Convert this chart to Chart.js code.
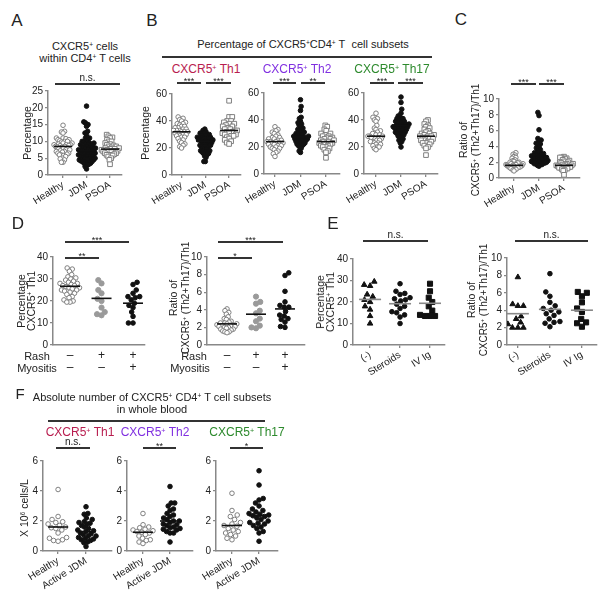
<!DOCTYPE html>
<html>
<head>
<meta charset="utf-8">
<script src="https://cdn.jsdelivr.net/npm/chart.js@4/dist/chart.umd.min.js"></script>
<style>
body { margin: 0; width: 600px; height: 593px; position: relative; background: #fff; overflow: hidden;
  font-family: "Liberation Sans", Arial, sans-serif; color: #222; }
.t { position: absolute; white-space: nowrap; transform: translate(-50%, -50%); text-align: center; line-height: 1.15; }
.v { transform: translate(-50%, -50%) rotate(-90deg); }
.ln { position: absolute; height: 1.3px; background: #333; }
canvas { position: absolute; }
sup { font-size: 60%; position: relative; top: -0.45em; vertical-align: baseline; }
</style>
</head>
<body>
<script>
Chart.defaults.font.family = '"Liberation Sans", Arial, sans-serif';
Chart.defaults.color = '#222';

// A + B + C categories
const abcCats = ['Healthy', 'JDM', 'PSOA'];

// A: CXCR5+ cells within CD4+ T cells (%)
const aHealthy = [14.8, 13, 12.8, 12.5, 11, 11, 10.8, 10.5, 10.5, 10.2, 10, 10, 9.8, 9.5, 9.5, 9.2, 9, 9, 9, 8.8, 8.7, 8.5, 8.5, 8.3, 8.2, 8, 8, 7.8, 7.5, 7.5, 7.2, 7, 7, 6.8, 6.5, 6.5, 6.2, 6, 6, 5.8, 5.5, 5, 4.8, 4.5, 3.8, 3.8];
const aJDM = [20.5, 15.8, 15.5, 15, 14.5, 13, 12.5, 12, 11, 11, 10.5, 10, 10, 9.8, 9.5, 9.5, 9.2, 9, 9, 8.8, 8.5, 8.5, 8.2, 8, 8, 8, 7.8, 7.5, 7.5, 7.5, 7.2, 7, 7, 7, 6.8, 6.5, 6.5, 6.5, 6.2, 6, 6, 6, 5.8, 5.5, 5.5, 5.5, 5.2, 5, 5, 5, 4.8, 4.5, 4.5, 4.5, 4.2, 4, 4, 3.8, 3.5, 3.5, 3.2, 3, 2.5, 1.8];
const aPSOA = [12, 11.5, 11.2, 11, 10.5, 10, 10, 9.5, 9.2, 9, 8.8, 8.5, 8.5, 8.2, 8, 8, 7.8, 7.8, 7.5, 7.5, 7.2, 7.2, 7, 7, 6.8, 6.5, 6.5, 6.2, 6, 6, 5.8, 5.5, 5, 4.5, 3.2];
const aMeans = [8.5, 7.2, 7.7];

// B: percentage of CXCR5+CD4+ T cell subsets
const th1Healthy = [43, 42, 41, 40, 39, 38, 38, 37, 36, 36, 35, 35, 34, 34, 33, 33, 33, 32, 32, 32, 31, 31, 30, 30, 29, 29, 28, 28, 27, 26, 25, 24, 23, 22, 21, 20];
const th1JDM = [34, 33, 32, 31, 31, 30, 30, 29, 29, 28, 28, 28, 27, 27, 27, 26, 26, 26, 25, 25, 25, 24, 24, 24, 23, 23, 22, 22, 22, 21, 21, 20, 20, 19, 19, 18, 18, 17, 17, 16, 16, 15, 14, 13, 10, 10];
const th1PSOA = [55, 43, 43, 40, 40, 39, 38, 38, 37, 36, 36, 35, 34, 34, 33, 33, 32, 32, 31, 31, 30, 30, 29, 29, 28, 27, 26, 25, 24, 23];
const th1Means = [32, 25, 33];

const th2Healthy = [35, 33, 32, 31, 30, 29, 28, 27, 27, 26, 26, 25, 25, 24, 24, 24, 23, 23, 23, 22, 22, 21, 21, 20, 20, 19, 19, 18, 17, 16, 15, 13];
const th2JDM = [55, 50, 47, 42, 41, 39, 38, 37, 36, 35, 34, 33, 33, 32, 31, 31, 30, 30, 29, 29, 28, 28, 28, 27, 27, 27, 26, 26, 26, 25, 25, 25, 24, 24, 23, 23, 22, 22, 21, 21, 20, 19, 17, 16];
const th2PSOA = [36, 35, 33, 32, 30, 30, 29, 28, 28, 27, 27, 26, 26, 25, 25, 24, 24, 24, 23, 23, 22, 22, 21, 21, 20, 20, 19, 18, 17, 16, 12];
const th2Means = [24, 28, 24];

const th17Healthy = [45, 42, 41, 40, 39, 36, 34, 33, 32, 31, 30, 30, 29, 29, 28, 28, 28, 27, 27, 27, 26, 26, 25, 25, 24, 24, 23, 23, 22, 22, 21, 20, 20, 19, 18];
const th17JDM = [57, 53, 48, 45, 43, 42, 41, 41, 40, 40, 39, 39, 38, 38, 37, 37, 37, 36, 36, 36, 35, 35, 35, 34, 34, 34, 33, 33, 32, 32, 31, 31, 30, 30, 29, 29, 28, 27, 26, 25, 24, 23, 20];
const th17PSOA = [40, 39, 37, 36, 35, 34, 33, 32, 31, 30, 30, 29, 29, 28, 28, 28, 27, 27, 26, 26, 25, 25, 24, 24, 23, 23, 22, 21, 20, 19, 14];
const th17Means = [28, 36, 28];

// C: ratio (Th2+Th17)/Th1
const cHealthy = [3.2, 3.0, 2.9, 2.7, 2.6, 2.5, 2.3, 2.2, 2.1, 2.0, 2.0, 1.9, 1.9, 1.8, 1.8, 1.8, 1.7, 1.7, 1.7, 1.6, 1.6, 1.6, 1.5, 1.5, 1.5, 1.4, 1.4, 1.4, 1.3, 1.3, 1.3, 1.2, 1.2, 1.1, 1.1, 1.0, 0.9];
const cJDM = [8.3, 7.9, 6.1, 5.0, 4.8, 4.6, 4.4, 4.3, 4.3, 4.0, 3.8, 3.6, 3.4, 3.3, 3.2, 3.1, 3.0, 3.0, 2.9, 2.8, 2.8, 2.7, 2.6, 2.6, 2.5, 2.5, 2.4, 2.4, 2.3, 2.3, 2.2, 2.2, 2.1, 2.1, 2.0, 2.0, 1.9, 1.9, 1.8, 1.8, 1.7, 1.7, 1.6, 1.5];
const cPSOA = [2.7, 2.6, 2.6, 2.5, 2.4, 2.3, 2.2, 2.1, 2.0, 2.0, 1.9, 1.8, 1.8, 1.7, 1.7, 1.6, 1.6, 1.5, 1.5, 1.4, 1.4, 1.3, 1.3, 1.2, 1.2, 1.1, 1.0, 0.9, 0.4];
const cMeans = [1.6, 2.8, 1.6];

// D: by rash / myositis
const dRash = ['–', '+', '+'];
const dMyositis = ['–', '–', '+'];
const dPctNone = [35, 34.5, 33.5, 32, 31, 30.5, 30, 29.5, 29, 28.5, 28, 28, 27.5, 27, 27, 26.5, 26, 26, 25.5, 25, 25, 24.5, 24, 23.5, 23, 22, 21.5, 20.5, 20, 19.5, 19.5];
const dPctRash = [29.5, 28, 25, 23.5, 21, 20, 17, 15, 14, 13.5];
const dPctBoth = [28.5, 27.5, 25, 23.5, 22, 22, 21.5, 20.5, 19, 18, 17, 15, 13, 10, 10];
const dPctMeans = [26.7, 21.2, 19];
const dRatioNone = [4.1, 3.9, 3.7, 3.5, 3.2, 3.0, 2.9, 2.7, 2.6, 2.5, 2.5, 2.4, 2.4, 2.3, 2.3, 2.2, 2.2, 2.1, 2.1, 2.0, 2.0, 1.9, 1.8, 1.8, 1.7, 1.6, 1.5, 1.5, 1.4];
const dRatioRash = [5.5, 4.9, 4.7, 3.9, 3.6, 3.0, 2.7, 2.2, 2.0, 1.9];
const dRatioBoth = [8.2, 7.9, 6.1, 4.9, 4.5, 4.3, 4.3, 3.8, 3.4, 3.3, 3.0, 2.9, 2.6, 2.1, 2.0];
const dRatioMeans = [2.4, 3.5, 4.1];

// E: by treatment
const eCats = ['(-)', 'Steroids', 'IV Ig'];
const ePctNone = [29.5, 28, 27.5, 23.5, 22.5, 21, 20, 18, 16.5, 13.5, 10];
const ePctSteroids = [28.5, 25, 24, 23.5, 22, 21.5, 21, 20.5, 19, 18, 17, 15.5, 15, 14, 13, 10];
const ePctIVIg = [28.5, 25, 22, 20, 18, 16, 14, 13.5, 13.5, 13.5];
const ePctMeans = [21.2, 19.2, 19.4];
const eRatioNone = [7.8, 4.7, 4.5, 4.5, 3.3, 3.0, 2.6, 2.4, 2.0, 2.0, 2.0];
const eRatioSteroids = [8.2, 6.1, 5.6, 4.9, 4.5, 4.2, 4.0, 3.8, 3.6, 3.4, 3.0, 2.7, 2.6, 2.5, 2.1];
const eRatioIVIg = [6.1, 6.0, 5.6, 4.9, 4.2, 3.8, 3.0, 2.6, 2.5, 2.1];
const eRatioMeans = [3.6, 4.1, 4.0];

// F: absolute number (x10^6 cells/L)
const fCats = ['Healthy', 'Active JDM'];
const fTh1Healthy = [4.1, 2.3, 2.1, 1.95, 1.9, 1.8, 1.7, 1.6, 1.55, 1.5, 1.4, 1.2, 0.9, 0.85, 0.75, 0.7, 0.65];
const fTh1JDM = [2.95, 2.5, 2.45, 2.2, 2.1, 1.95, 1.9, 1.85, 1.8, 1.7, 1.6, 1.5, 1.4, 1.35, 1.3, 1.2, 1.15, 1.1, 1.0, 1.0, 0.9, 0.85, 0.8, 0.75, 0.7, 0.6, 0.55, 0.3];
const fTh1Means = [1.6, 1.3];
const fTh2Healthy = [2.5, 1.75, 1.6, 1.55, 1.45, 1.4, 1.35, 1.3, 1.25, 1.2, 1.1, 1.0, 0.85, 0.75, 0.7, 0.6, 0.5];
const fTh2JDM = [4.3, 3.2, 3.2, 3.0, 2.8, 2.7, 2.5, 2.4, 2.3, 2.2, 2.1, 2.0, 2.0, 1.9, 1.8, 1.75, 1.7, 1.6, 1.55, 1.5, 1.45, 1.4, 1.3, 1.2, 1.2, 0.6];
const fTh2Means = [1.25, 2.0];
const fTh17Healthy = [3.85, 2.7, 2.4, 2.3, 2.1, 1.9, 1.8, 1.7, 1.65, 1.5, 1.4, 1.3, 1.2, 1.1, 1.0, 0.85, 0.75];
const fTh17JDM = [5.35, 4.4, 3.5, 3.4, 3.2, 3.0, 2.8, 2.7, 2.6, 2.5, 2.45, 2.4, 2.35, 2.3, 2.2, 2.1, 2.0, 1.9, 1.85, 1.8, 1.7, 1.6, 1.5, 1.3, 1.2, 0.65];
const fTh17Means = [1.7, 2.35];

// marker styles
const openCircle = { shape: 'circle', r: 2.3, fill: '#fff', stroke: '#7f7f7f' };
const blackCircle = { shape: 'circle', r: 2.3, fill: '#111', stroke: '#111' };
const greyCircle = { shape: 'circle', r: 2.6, fill: '#9a9a9a', stroke: '#9a9a9a' };
const openSquare = { shape: 'rect', r: 3.3, fill: '#fff', stroke: '#7f7f7f' };
const blackSquare = { shape: 'rect', r: 3.6, fill: '#111', stroke: '#111' };
const blackTriangle = { shape: 'triangle', r: 3.2, fill: '#111', stroke: '#111' };
const th1Color = '#b81d4f', th2Color = '#8030e0', th17Color = '#2d8a2d';

// simple beeswarm: x offsets (px) so markers don't overlap, then squeezed to maxHalf px
function swarm(vals, pxY, d, maxHalf) {
  const order = vals.map((v, i) => i).sort((a, b) => vals[a] - vals[b]);
  const placed = [];
  const out = new Array(vals.length);
  order.forEach((i, k) => {
    const y = vals[i] * pxY;
    const cands = [0];
    placed.forEach(p => {
      const dy = y - p.y;
      if (Math.abs(dy) < d) {
        const dx = Math.sqrt(d * d - dy * dy);
        cands.push(p.x + dx + 0.01, p.x - dx - 0.01);
      }
    });
    cands.sort((a, b) => Math.abs(a) - Math.abs(b) || (k % 2 ? a - b : b - a));
    const x = cands.find(c => placed.every(p => (c - p.x) ** 2 + (y - p.y) ** 2 >= d * d - 0.001));
    placed.push({ x, y });
    out[i] = x;
  });
  const widest = Math.max(...out.map(Math.abs));
  const k = widest > maxHalf ? maxHalf / widest : 1;
  return out.map(x => x * k);
}

function plot(o) {
  const yw = 30, pt = 8, pr = 6, xh = o.xh || 45;
  const cv = document.createElement('canvas');
  cv.width = o.r - o.l + yw + pr;
  cv.height = o.b - o.t + pt + xh;
  cv.style.left = (o.l - yw) + 'px';
  cv.style.top = (o.t - pt) + 'px';
  document.body.appendChild(cv);
  const pxX = (o.r - o.l) / (o.xmax - o.xmin);
  const pxY = (o.b - o.t) / o.ymax;
  const half = (o.halfPx || 9) / pxX;
  const datasets = [];
  o.means.forEach((m, i) => datasets.push({
    type: 'line', data: [{ x: i - half, y: m }, { x: i + half, y: m }],
    borderColor: o.lineColor || '#111', borderWidth: 1.6, pointRadius: 0, order: 0
  }));
  o.groups.forEach((g, i) => {
    const off = swarm(g.vals, pxY, o.d || 4.6, o.spread || 9);
    datasets.push({
      data: g.vals.map((v, k) => ({ x: i + off[k] / pxX, y: v })),
      pointStyle: g.style.shape, pointRadius: g.style.r,
      backgroundColor: g.style.fill, borderColor: g.style.stroke, borderWidth: 1, order: 1
    });
  });
  const rot = o.rot === undefined ? 32 : o.rot;
  new Chart(cv, {
    type: 'scatter',
    data: { datasets },
    options: {
      responsive: false, animation: false, events: [],
      layout: { padding: { top: pt, right: pr, left: 0, bottom: 0 } },
      plugins: { legend: { display: false }, tooltip: { enabled: false } },
      scales: {
        x: {
          type: 'linear', min: o.xmin, max: o.xmax,
          afterFit: s => { s.height = xh; },
          afterBuildTicks: s => { s.ticks = o.cats.map((c, i) => ({ value: i })); },
          ticks: {
            callback: v => o.cats[v], autoSkip: false, maxRotation: rot, minRotation: rot,
            font: o.xFont || { size: 10 }, padding: o.xPad || 1, color: '#222'
          },
          grid: { drawOnChartArea: false, drawTicks: !o.noXTicks, tickLength: 3, color: '#888', lineWidth: 1.3 },
          border: { color: '#888', width: 1.5 }
        },
        y: {
          min: 0, max: o.ymax,
          afterFit: s => { s.width = yw; },
          ticks: { stepSize: o.step, font: { size: 10 }, padding: 2, color: '#222' },
          grid: { drawOnChartArea: false, tickLength: 3, color: '#888', lineWidth: 1.3 },
          border: { color: '#888', width: 1.5 }
        }
      }
    }
  });
}

function txt(x, y, html, size, extra) {
  const d = document.createElement('div');
  d.className = 't' + (extra && extra.v ? ' v' : '');
  d.style.left = x + 'px';
  d.style.top = y + 'px';
  d.style.fontSize = size + 'px';
  if (extra && extra.color) d.style.color = extra.color;
  if (extra && extra.lh) d.style.lineHeight = extra.lh;
  d.innerHTML = html;
  document.body.appendChild(d);
}
function line(x1, x2, y) {
  const d = document.createElement('div');
  d.className = 'ln';
  d.style.left = x1 + 'px';
  d.style.top = (y - 0.6) + 'px';
  d.style.width = (x2 - x1) + 'px';
  document.body.appendChild(d);
}
function sig(x1, x2, y, label) {
  line(x1, x2, y);
  const ns = label === 'n.s.';
  txt((x1 + x2) / 2, y - (ns ? 6 : 2), label, ns ? 10 : 9);
}

// ----- A -----
plot({ l: 48, r: 122, t: 91, b: 175, xmin: -0.64, xmax: 2.51, ymax: 25, step: 5, cats: abcCats,
  groups: [{ vals: aHealthy, style: openCircle }, { vals: aJDM, style: blackCircle }, { vals: aPSOA, style: openSquare }],
  means: aMeans, spread: 9 });
// ----- B -----
plot({ l: 172, r: 241, t: 94, b: 175, xmin: -0.4, xmax: 2.5, ymax: 60, step: 20, cats: abcCats,
  groups: [{ vals: th1Healthy, style: openCircle }, { vals: th1JDM, style: blackCircle }, { vals: th1PSOA, style: openSquare }],
  means: th1Means, spread: 8 });
plot({ l: 264, r: 340, t: 93, b: 174, xmin: -0.43, xmax: 2.55, ymax: 60, step: 20, cats: abcCats,
  groups: [{ vals: th2Healthy, style: openCircle }, { vals: th2JDM, style: blackCircle }, { vals: th2PSOA, style: openSquare }],
  means: th2Means, spread: 8 });
plot({ l: 364, r: 438, t: 93, b: 174, xmin: -0.48, xmax: 2.48, ymax: 60, step: 20, cats: abcCats,
  groups: [{ vals: th17Healthy, style: openCircle }, { vals: th17JDM, style: blackCircle }, { vals: th17PSOA, style: openSquare }],
  means: th17Means, spread: 8 });
// ----- C -----
plot({ l: 499, r: 580, t: 99, b: 178, xmin: -0.6, xmax: 2.64, ymax: 10, step: 2, cats: abcCats,
  groups: [{ vals: cHealthy, style: openCircle }, { vals: cJDM, style: blackCircle }, { vals: cPSOA, style: openSquare }],
  means: cMeans, spread: 9 });
// ----- D -----
const dLabels = dRash.map((r, i) => [r, dMyositis[i]]);
plot({ l: 53, r: 145, t: 257, b: 345, xmin: -0.54, xmax: 2.38, ymax: 40, step: 10, cats: dLabels,
  rot: 0, noXTicks: true, xPad: 5, xFont: { size: 12, lineHeight: 1.0 },
  groups: [{ vals: dPctNone, style: openCircle }, { vals: dPctRash, style: greyCircle }, { vals: dPctBoth, style: blackCircle }],
  means: dPctMeans, halfPx: 10, spread: 10 });
plot({ l: 207, r: 305, t: 257, b: 345, xmin: -0.69, xmax: 2.69, ymax: 10, step: 2, cats: dLabels,
  rot: 0, noXTicks: true, xPad: 5, xFont: { size: 12, lineHeight: 1.0 },
  groups: [{ vals: dRatioNone, style: openCircle }, { vals: dRatioRash, style: greyCircle }, { vals: dRatioBoth, style: blackCircle }],
  means: dRatioMeans, halfPx: 10, spread: 10 });
// ----- E -----
plot({ l: 353, r: 445, t: 259, b: 345, xmin: -0.57, xmax: 2.5, ymax: 40, step: 10, cats: eCats,
  groups: [{ vals: ePctNone, style: blackTriangle }, { vals: ePctSteroids, style: blackCircle }, { vals: ePctIVIg, style: blackSquare }],
  means: ePctMeans, lineColor: '#888', halfPx: 11, d: 6, spread: 10 });
plot({ l: 507, r: 597, t: 258, b: 345, xmin: -0.34, xmax: 2.47, ymax: 10, step: 2, cats: eCats,
  groups: [{ vals: eRatioNone, style: blackTriangle }, { vals: eRatioSteroids, style: blackCircle }, { vals: eRatioIVIg, style: blackSquare }],
  means: eRatioMeans, lineColor: '#888', halfPx: 11, d: 6, spread: 10 });
// ----- F -----
plot({ l: 43, r: 112, t: 461, b: 551, xmin: -0.54, xmax: 1.93, ymax: 6, step: 2, cats: fCats,
  groups: [{ vals: fTh1Healthy, style: openCircle }, { vals: fTh1JDM, style: blackCircle }],
  means: fTh1Means, halfPx: 10, d: 5.2, spread: 10 });
plot({ l: 127, r: 193, t: 461, b: 551, xmin: -0.59, xmax: 1.85, ymax: 6, step: 2, cats: fCats,
  groups: [{ vals: fTh2Healthy, style: openCircle }, { vals: fTh2JDM, style: blackCircle }],
  means: fTh2Means, halfPx: 10, d: 5.2, spread: 10 });
plot({ l: 216, r: 278, t: 461, b: 551, xmin: -0.59, xmax: 1.7, ymax: 6, step: 2, cats: fCats,
  groups: [{ vals: fTh17Healthy, style: openCircle }, { vals: fTh17JDM, style: blackCircle }],
  means: fTh17Means, halfPx: 10, d: 5.2, spread: 10 });

// ----- text, titles, significance bars -----
txt(17, 21, 'A', 17); txt(152, 21, 'B', 17); txt(461, 20, 'C', 17);
txt(18, 224, 'D', 17); txt(333, 224, 'E', 17); txt(20, 394, 'F', 15);

txt(85, 46, 'CXCR5<sup>+</sup> cells', 11);
txt(85, 58, 'within CD4<sup>+</sup> T cells', 11);
sig(55, 120, 84, 'n.s.');
txt(27, 133, 'Percentage', 10.5, { v: 1 });

txt(303, 44, 'Percentage of CXCR5<sup>+</sup>CD4<sup>+</sup> T&nbsp; cell subsets', 11);
line(162, 432, 57);
txt(206, 70, 'CXCR5<sup>+</sup> Th1', 12, { color: th1Color });
txt(297, 70, 'CXCR5<sup>+</sup> Th2', 12, { color: th2Color });
txt(392, 70, 'CXCR5<sup>+</sup> Th17', 12, { color: th17Color });
sig(177, 201, 83, '***'); sig(206, 231, 83, '***');
sig(273, 296, 83, '***'); sig(301, 325, 83, '**');
sig(370, 394, 83, '***'); sig(398, 423, 83, '***');
txt(145, 133, 'Percentage', 10.5, { v: 1 });

const ratioTitle = '<span style="font-size:10.5px">Ratio of</span><br>CXCR5<sup>+</sup> (Th2+Th17)/Th1';
sig(511, 536, 84, '***'); sig(539, 564, 84, '***');
txt(470, 140, ratioTitle, 10, { v: 1, lh: '12px' });

sig(65, 129, 242, '***'); sig(65, 99, 258, '**');
sig(218, 283, 242, '***'); sig(218, 252, 258, '*');
txt(27, 301, 'Percentage<br>CXCR5<sup>+</sup> Th1', 10.5, { v: 1, lh: '10px' });
txt(180, 298, ratioTitle, 10, { v: 1, lh: '12px' });
txt(37, 356, 'Rash', 11); txt(37, 368, 'Myositis', 11);
txt(194, 356, 'Rash', 11); txt(190, 368, 'Myositis', 11);

sig(363, 428, 241, 'n.s.'); sig(515, 588, 241, 'n.s.');
txt(326, 302, 'Percentage<br>CXCR5<sup>+</sup> Th1', 10.5, { v: 1, lh: '10px' });
txt(478, 300, ratioTitle, 10, { v: 1, lh: '12px' });

txt(152, 397, 'Absolute number of CXCR5<sup>+</sup> CD4<sup>+</sup> T cell subsets', 11);
txt(152, 409, 'in whole blood', 11);
line(48, 265, 421);
txt(80, 433, 'CXCR5<sup>+</sup> Th1', 12, { color: th1Color });
txt(155, 433, 'CXCR5<sup>+</sup> Th2', 12, { color: th2Color });
txt(247, 433, 'CXCR5<sup>+</sup> Th17', 12, { color: th17Color });
sig(56, 90, 448, 'n.s.'); sig(143, 176, 448, '**'); sig(230, 263, 448, '*');
txt(24, 508, 'X 10<sup>6</sup> cells/L', 10.5, { v: 1 });
</script>
</body>
</html>
